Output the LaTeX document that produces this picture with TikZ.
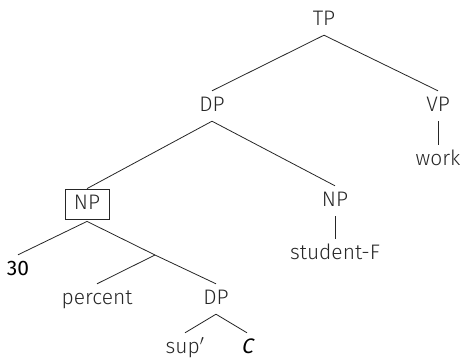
\documentclass[tikz,border=0pt]{standalone}
\usepackage{fontspec}
\setmainfont{Fira Sans Light}
\newfontfamily\numfont{Fira Sans}
\newfontfamily\varfont{Fira Sans}[FakeSlant=0.2]

\begin{document}
\begin{tikzpicture}[x=1pt, y=-1pt,
    cat/.style={anchor=base, inner xsep=1pt, inner ysep=6pt, text height=14pt, text depth=4pt, text=black!85, font=\fontsize{21}{24}\selectfont},
    boxcat/.style={cat, draw=black!85, line width=0.8pt, inner xsep=9pt, inner ysep=6pt},
    branch/.style={black!85, line width=0.8pt}]
            \useasboundingbox (0,0) rectangle (464,359);

            \node[cat] (tp) at (324,25) {TP};
            \node[cat] (dp) at (212,111) {DP};
            \node[cat] (vp) at (438,111) {VP};
            \node[cat] (work) at (438,165) {work};
            \node[boxcat] (np) at (87,209) {NP};
            \node[cat] (npr) at (335,206) {NP};
            \node[cat] (student) at (335,259) {student-F};
            \node[cat, text=black] (thirty) at (18,275) {\numfont 30};
            \node[cat] (percent) at (97,304) {percent};
            \node[cat] (dpc) at (216,304) {DP};
            \node[cat] (sup) at (185,353) {sup$'$};
            \node[cat, text=black] (c) at (247,353) {\varfont C};
            \coordinate (bar) at (155,255);

            \draw[branch] (tp.south) -- (dp.north);
            \draw[branch] (tp.south) -- (vp.north);
            \draw[branch] (vp.south) -- (work.north);
            \draw[branch] (dp.south) -- (np.north);
            \draw[branch] (dp.south) -- (npr.north);
            \draw[branch] (npr.south) -- (student.north);
            \draw[branch] ([yshift=-2pt]np.south) -- (thirty.north);
            \draw[branch] ([yshift=-2pt]np.south) -- (bar) -- (dpc.north);
            \draw[branch] (bar) -- (percent.north);
            \draw[branch] (dpc.south) -- (sup.north);
            \draw[branch] (dpc.south) -- (c.north);
        \end{tikzpicture}
\end{document}
